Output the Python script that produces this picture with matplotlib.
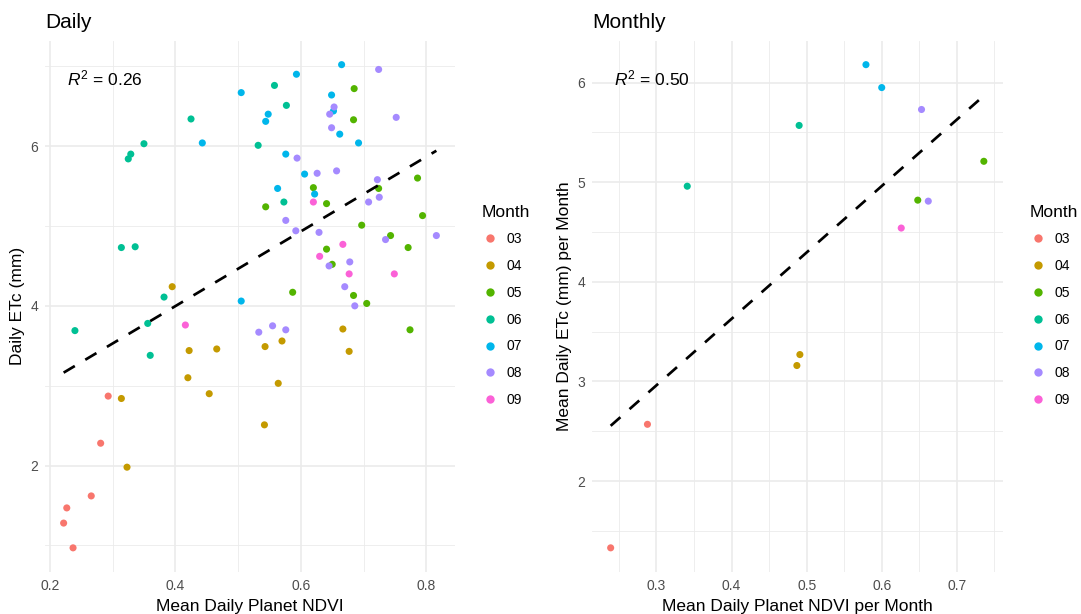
import numpy as np
import matplotlib
matplotlib.use("Agg")
import matplotlib.pyplot as plt
from matplotlib.lines import Line2D
from matplotlib.ticker import MultipleLocator

plt.rcParams['font.family'] = ['Liberation Sans', 'DejaVu Sans']
plt.rcParams['mathtext.fontset'] = 'custom'
plt.rcParams['mathtext.rm'] = 'Liberation Sans'
plt.rcParams['mathtext.it'] = 'Liberation Sans:italic'

months = ['03', '04', '05', '06', '07', '08', '09']
colors = ['#F8766D', '#C49A00', '#53B400', '#00C094', '#00B6EB', '#A58AFF', '#FB61D7']

# daily values per month (NDVI, ETc)
daily_x = {
    '03': [0.293, 0.281, 0.266, 0.227, 0.222, 0.237],
    '04': [0.395, 0.422, 0.466, 0.543, 0.570, 0.677, 0.667, 0.420, 0.454, 0.564, 0.542, 0.314, 0.323],
    '05': [0.685, 0.684, 0.786, 0.724, 0.620, 0.641, 0.544, 0.794, 0.697, 0.743, 0.641, 0.771, 0.650,
           0.684, 0.587, 0.705, 0.774],
    '06': [0.558, 0.577, 0.425, 0.350, 0.329, 0.325, 0.532, 0.573, 0.314, 0.336, 0.382, 0.240, 0.356, 0.360],
    '07': [0.665, 0.593, 0.505, 0.649, 0.652, 0.548, 0.544, 0.662, 0.692, 0.443, 0.576, 0.606, 0.622,
           0.563, 0.505],
    '08': [0.724, 0.653, 0.646, 0.752, 0.649, 0.594, 0.626, 0.657, 0.722, 0.725, 0.708, 0.576, 0.592,
           0.629, 0.735, 0.816, 0.678, 0.645, 0.670, 0.686, 0.533, 0.555, 0.576],
    '09': [0.620, 0.667, 0.630, 0.677, 0.749, 0.416],
}
daily_y = {
    '03': [2.87, 2.28, 1.62, 1.47, 1.28, 0.97],
    '04': [4.24, 3.44, 3.46, 3.49, 3.56, 3.43, 3.71, 3.10, 2.90, 3.03, 2.51, 2.84, 1.98],
    '05': [6.72, 6.33, 5.60, 5.47, 5.48, 5.28, 5.24, 5.13, 5.01, 4.88, 4.71, 4.73, 4.52, 4.13, 4.17, 4.03, 3.70],
    '06': [6.76, 6.51, 6.34, 6.03, 5.90, 5.84, 6.01, 5.30, 4.73, 4.74, 4.11, 3.69, 3.78, 3.38],
    '07': [7.02, 6.90, 6.67, 6.64, 6.44, 6.40, 6.31, 6.15, 6.04, 6.04, 5.90, 5.65, 5.40, 5.47, 4.06],
    '08': [6.96, 6.49, 6.40, 6.36, 6.23, 5.85, 5.66, 5.69, 5.58, 5.36, 5.30, 5.07, 4.94, 4.92, 4.83, 4.88,
           4.55, 4.50, 4.24, 4.00, 3.67, 3.75, 3.70],
    '09': [5.30, 4.77, 4.62, 4.40, 4.40, 3.76],
}

# monthly means per month
monthly_x = {
    '03': [0.288, 0.239], '04': [0.491, 0.487], '05': [0.736, 0.648], '06': [0.490, 0.341],
    '07': [0.579, 0.600], '08': [0.653, 0.662], '09': [0.626],
}
monthly_y = {
    '03': [2.57, 1.33], '04': [3.27, 3.16], '05': [5.21, 4.82], '06': [5.57, 4.96],
    '07': [6.18, 5.95], '08': [5.73, 4.81], '09': [4.54],
}

r2_labels = ['0.26', '0.50']

W, H = 1081, 614
fig = plt.figure(figsize=(W / 100, H / 100), dpi=100)
ax1 = fig.add_axes([45 / W, 1 - 572 / H, 410 / W, 531.5 / H])
ax2 = fig.add_axes([592 / W, 1 - 572 / H, 410.5 / W, 531.5 / H])


def panel(ax, xs, ys, title, xlabel, ylabel, r2, xmaj, xmin, ymaj, ymin, legend_x):
    ax.set_facecolor('white')
    for s in ax.spines.values():
        s.set_visible(False)
    ax.xaxis.set_major_locator(MultipleLocator(xmaj))
    ax.xaxis.set_minor_locator(MultipleLocator(xmin))
    ax.yaxis.set_major_locator(MultipleLocator(ymaj))
    ax.yaxis.set_minor_locator(MultipleLocator(ymin))
    ax.grid(True, which='major', color='#EBEBEB', lw=1.2, zorder=0)
    ax.grid(True, which='minor', color='#EBEBEB', lw=0.6, zorder=0)
    ax.set_axisbelow(True)
    ax.tick_params(which='both', length=0, labelsize=10, labelcolor='#4D4D4D')
    ax.tick_params(axis='x', pad=5)
    ax.tick_params(axis='y', pad=5)

    allx, ally = [], []
    for m, c in zip(months, colors):
        ax.scatter(xs[m], ys[m], s=26, color=c, edgecolors='none', zorder=3)
        allx += xs[m]
        ally += ys[m]
    allx = np.array(allx)
    ally = np.array(ally)
    slope, icpt = np.polyfit(allx, ally, 1)
    lx = np.array([allx.min(), allx.max()])
    ax.plot(lx, slope * lx + icpt, color='black', lw=1.95,
            linestyle=(0, (4.8, 4.5)), dash_capstyle='butt', zorder=4)
    ax.margins(x=0.05, y=0.05)

    ax.text(0.054, 0.929, r'$R^2$ = ' + r2, transform=ax.transAxes,
            fontsize=12.5, ha='left', va='center', color='black')
    ax.set_title(title, loc='left', fontsize=15, pad=9)
    ax.set_xlabel(xlabel, fontsize=12.5, labelpad=4)
    ax.set_ylabel(ylabel, fontsize=12.5, labelpad=4)

    handles = [Line2D([], [], marker='o', ls='none', color=c, markersize=6, markeredgewidth=0)
               for c in colors]
    leg = fig.legend(handles, months, title='Month', loc='upper left',
                     bbox_to_anchor=(legend_x / W, 1 - 199 / H), frameon=False,
                     fontsize=10, title_fontsize=12.5, labelspacing=0.92,
                     handletextpad=0.6, handlelength=1.2, borderaxespad=0)
    leg._legend_box.align = 'left'


panel(ax1, daily_x, daily_y, 'Daily', 'Mean Daily Planet NDVI', 'Daily ETc (mm)',
      r2_labels[0], 0.2, 0.1, 2, 1, 476)
panel(ax2, monthly_x, monthly_y, 'Monthly', 'Mean Daily Planet NDVI per Month',
      'Mean Daily ETc (mm) per Month', r2_labels[1], 0.1, 0.05, 1, 0.5, 1024)

fig.savefig('out.png', dpi=100)
